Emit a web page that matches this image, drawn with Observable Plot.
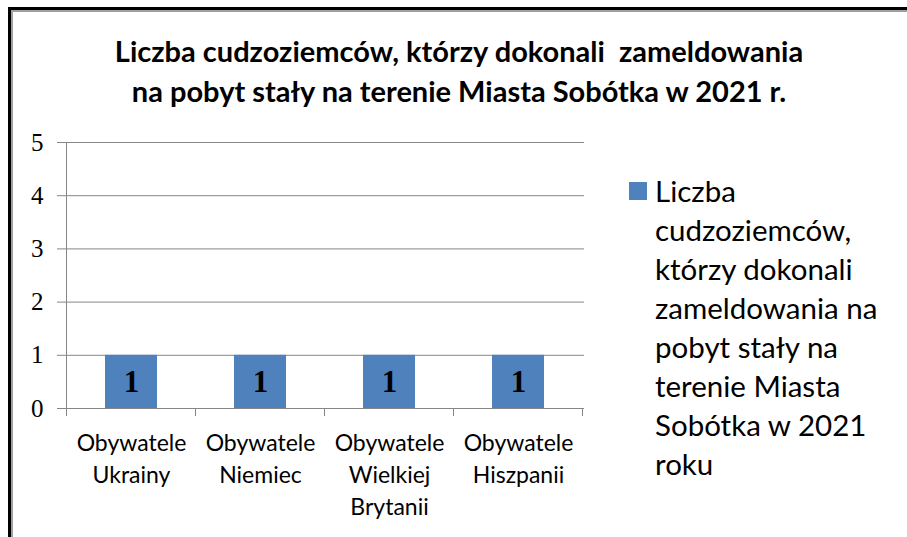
<!DOCTYPE html>
<html><head><meta charset="utf-8">
<script src="https://cdn.jsdelivr.net/npm/d3@7"></script>
<script src="https://cdn.jsdelivr.net/npm/@observablehq/plot@0.6"></script>
<style>
body{margin:0;background:#fff;}
#wrap{position:relative;width:907px;height:537px;overflow:hidden;background:#fff;}
#frame{position:absolute;left:8px;top:7px;width:1000px;height:700px;border-left:3px solid #000;border-top:3px solid #000;}
#frame2{position:absolute;left:11px;top:10px;width:1000px;height:700px;border-left:2px solid #a0a0a0;border-top:2px solid #a0a0a0;}
#title{position:absolute;left:0;width:918px;top:31px;text-align:center;font-family:Lato,sans-serif;font-weight:bold;font-size:29px;line-height:40px;color:#000;white-space:pre;}
#chart{position:absolute;left:0;top:120px;}
#legend{position:absolute;left:629px;top:171px;font-family:Lato,sans-serif;font-size:29.5px;line-height:39px;color:#000;}
#legend .sw{position:absolute;left:0;top:11px;width:18px;height:18px;}
#legend .tx{position:absolute;left:26px;top:0;white-space:pre;}
</style>
</head><body>
<div id="wrap">
  <div id="frame"></div><div id="frame2"></div>
  <div id="title"></div>
  <div id="chart"></div>
  <div id="legend"><div class="sw"></div><div class="tx"></div></div>
</div>
<script>
const titleLines = ["Liczba cudzoziemców, którzy dokonali  zameldowania", "na pobyt stały na terenie Miasta Sobótka w 2021 r."];
const categories = ["Obywatele\nUkrainy", "Obywatele\nNiemiec", "Obywatele\nWielkiej\nBrytanii", "Obywatele\nHiszpanii"];
const values = [1, 1, 1, 1];
const yTicks = [0, 1, 2, 3, 4, 5];
const seriesName = "Liczba\ncudzoziemców,\nktórzy dokonali\nzameldowania na\npobyt stały na\nterenie Miasta\nSobótka w 2021\nroku";
const barColor = "#4f81bd";
const gridColor = "#868686";

const data = categories.map((c, i) => ({category: c, value: values[i]}));

document.getElementById("title").textContent = titleLines.join("\n");
document.querySelector("#legend .sw").style.background = barColor;
document.querySelector("#legend .tx").textContent = seriesName;

function boundaryTicks(index, scales) {
  const x = scales.x, y = scales.y;
  const step = x.step(), bw = x.bandwidth();
  const half = (step - bw) / 2;
  const g = d3.create("svg:g").attr("stroke", gridColor).attr("stroke-width", 1);
  const y0 = y(0);
  const bounds = categories.map(c => x(c) - half);
  bounds.push(x(categories[categories.length - 1]) + bw + half);
  bounds.forEach((b, i) => {
    const top = i === 0 ? y(yTicks[yTicks.length - 1]) : y0;
    g.append("line").attr("x1", b).attr("x2", b).attr("y1", top).attr("y2", y0 + 8);
  });
  return g.node();
}

const chart = Plot.plot({
  width: 600,
  height: 417,
  marginLeft: 65,
  marginRight: 16,
  marginTop: 22,
  marginBottom: 129,
  style: {fontFamily: "Lato, sans-serif", fontSize: "23px", background: "transparent", overflow: "visible", color: "#000"},
  x: {domain: categories, paddingInner: 0.6, paddingOuter: 0.3, label: null},
  y: {domain: [0, 5], label: null},
  marks: [
    Plot.gridY(yTicks, {stroke: gridColor, strokeOpacity: 1}),
    Plot.barY(data, {x: "category", y: "value", fill: barColor}),
    boundaryTicks,
    Plot.axisY(yTicks, {tickSize: 8, tickPadding: 14, fontSize: 25, fontFamily: "Liberation Serif", stroke: gridColor, strokeOpacity: 1, fill: "#000", tickFormat: d => String(d)}),
    Plot.axisX({tickSize: 0, tickPadding: 20, fontSize: 23, fontFamily: "Lato, sans-serif", lineHeight: 1.39, fill: "#000"}),
    Plot.text(data, {x: "category", y: d => d.value / 2, text: d => String(d.value), fontFamily: "Liberation Serif", fontWeight: "bold", fontSize: 31, fill: "#000"})
  ]
});
document.getElementById("chart").appendChild(chart);
</script>
</body></html>
